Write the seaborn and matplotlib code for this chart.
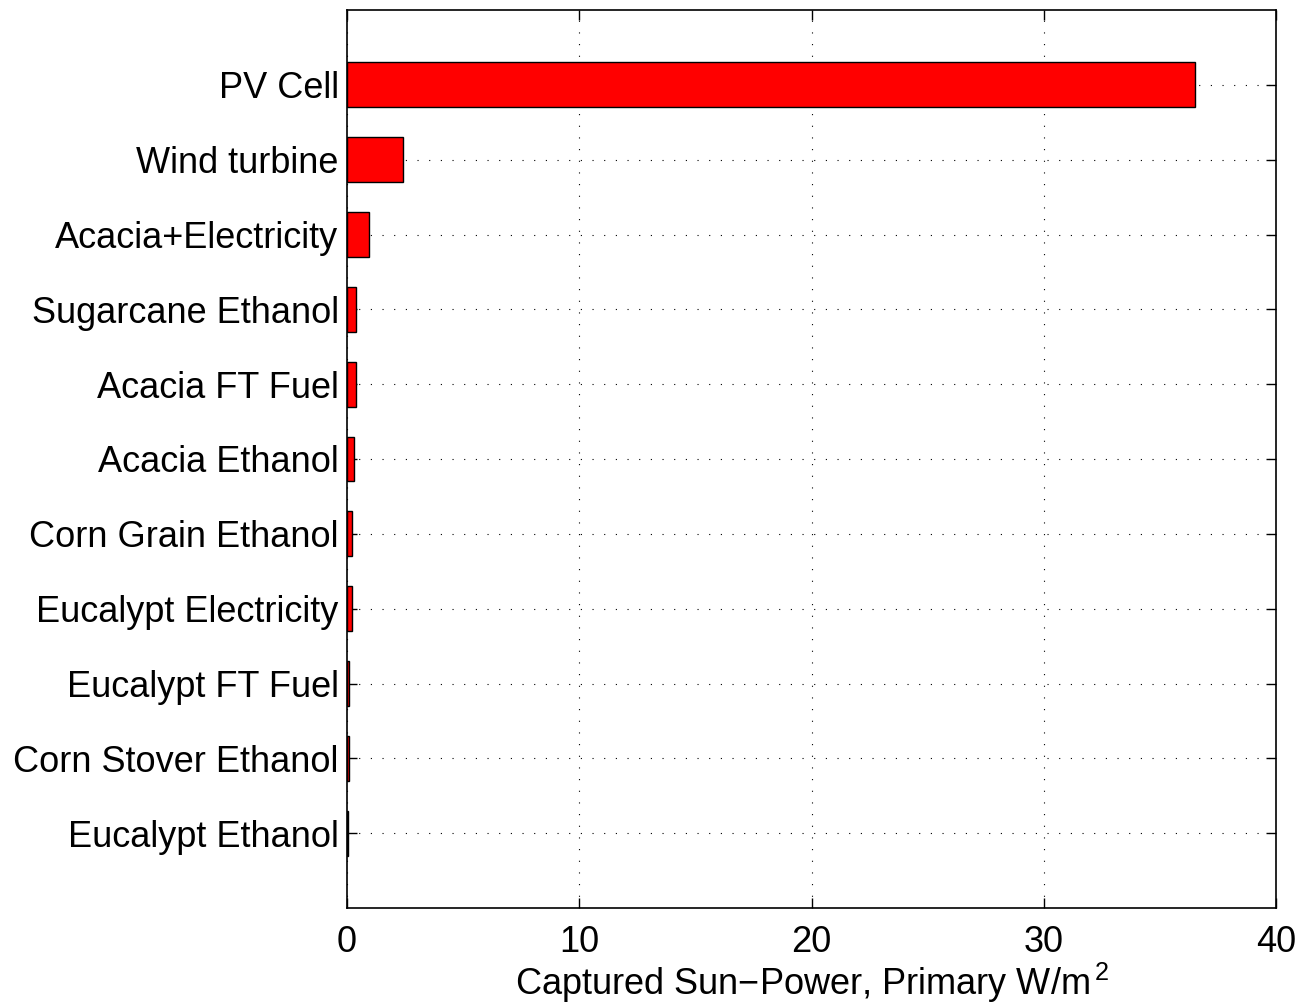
import matplotlib
matplotlib.use("Agg")
import matplotlib.pyplot as plt
import seaborn as sns
import pandas as pd

# Captured sun-power per pathway (primary W/m^2)
pathways = [
    "PV Cell",
    "Wind turbine",
    "Acacia+Electricity",
    "Sugarcane Ethanol",
    "Acacia FT Fuel",
    "Acacia Ethanol",
    "Corn Grain Ethanol",
    "Eucalypt Electricity",
    "Eucalypt FT Fuel",
    "Corn Stover Ethanol",
    "Eucalypt Ethanol",
]
power = [36.5, 2.43, 0.96, 0.39, 0.38, 0.30, 0.23, 0.22, 0.10, 0.09, 0.05]
x_ticks = [0, 10, 20, 30, 40]

sns.set_theme(style="white")
plt.rcParams["font.family"] = ["Liberation Sans", "DejaVu Sans"]
plt.rcParams["mathtext.fontset"] = "custom"
plt.rcParams["mathtext.rm"] = "Liberation Sans"
plt.rcParams["mathtext.it"] = "Liberation Sans"
plt.rcParams["text.color"] = "black"
plt.rcParams["axes.labelcolor"] = "black"
plt.rcParams["xtick.color"] = "black"
plt.rcParams["ytick.color"] = "black"

df = pd.DataFrame({"pathway": pathways, "power": power})

fig = plt.figure(figsize=(13.03, 10.07), dpi=100)
ax = fig.add_axes([347 / 1303, 1 - 908 / 1007, (1276 - 347) / 1303, (908 - 10) / 1007])

sns.barplot(data=df, x="power", y="pathway", orient="h", color="red",
            saturation=1, width=0.6, edgecolor="black", linewidth=1.0, ax=ax)
for p in ax.patches:
    p.set_facecolor((1, 0, 0))

ax.set_xlim(0, 40)
ax.set_ylim(11, -1)
ax.set_xticks(x_ticks)
ax.set_xticklabels([str(t) for t in x_ticks])
ax.grid(True, axis="both", linestyle=(0, (1, 9.5)), color="black", linewidth=0.8)
ax.set_axisbelow(True)
ax.tick_params(axis="both", direction="in", length=7, width=1.0, color="black",
               labelcolor="black", labelsize=26, top=True, right=True,
               bottom=True, left=True)
ax.tick_params(axis="y", pad=6)
ax.tick_params(axis="x", pad=12)
for s in ax.spines.values():
    s.set_visible(True)
    s.set_color("black")
    s.set_linewidth(1.2)

ax.set_ylabel("")
ax.set_xlabel("Captured Sun\u2212Power, Primary W/m$^{\\,2}$", fontsize=26,
              labelpad=1, color="black")

fig.savefig("out.png", dpi=100, facecolor="white")
